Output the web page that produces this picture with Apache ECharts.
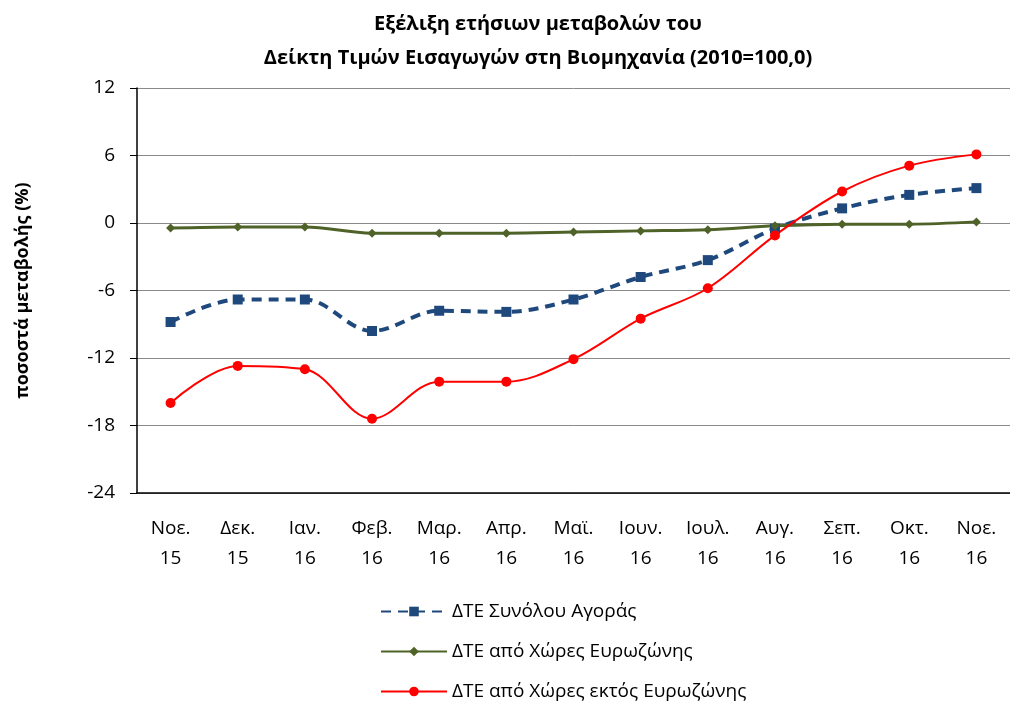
<!DOCTYPE html>
<html>
<head>
<meta charset="utf-8">
<script src="https://cdn.jsdelivr.net/npm/echarts@6/dist/echarts.min.js"></script>
<style>html,body{margin:0;padding:0;background:#fff}#c{width:1010px;height:701px}</style>
</head>
<body>
<div id="c"></div>
<script>
const categories = ['Νοε.\n15','Δεκ.\n15','Ιαν.\n16','Φεβ.\n16','Μαρ.\n16','Απρ.\n16','Μαϊ.\n16','Ιουν.\n16','Ιουλ.\n16','Αυγ.\n16','Σεπ.\n16','Οκτ.\n16','Νοε.\n16'];
const totalMarket = [-8.8,-6.8,-6.8,-9.6,-7.8,-7.9,-6.8,-4.8,-3.3,-0.5,1.3,2.5,3.1];
const eurozone = [-0.45,-0.35,-0.35,-0.9,-0.9,-0.9,-0.8,-0.7,-0.6,-0.25,-0.1,-0.1,0.1];
const nonEurozone = [-16.0,-12.7,-13.0,-17.4,-14.1,-14.1,-12.1,-8.5,-5.8,-1.1,2.8,5.1,6.1];
const seriesNames = ['ΔΤΕ Συνόλου Αγοράς','ΔΤΕ από Χώρες Ευρωζώνης','ΔΤΕ από Χώρες εκτός Ευρωζώνης'];
const yTicks = {min:-24, max:12, interval:6};

const font = "'Open Sans', 'Noto Sans', sans-serif";
const chart = echarts.init(document.getElementById('c'));
chart.setOption({
  animation:false,
  title:{
    text:'Εξέλιξη ετήσιων μεταβολών του\nΔείκτη Τιμών Εισαγωγών στη Βιομηχανία (2010=100,0)',
    left:533, top:2, textAlign:'center',
    textStyle:{fontFamily:font,fontSize:20,fontWeight:'bold',color:'#000',lineHeight:34}
  },
  legend:{
    orient:'vertical', left:375, top:597, height:140, itemWidth:66, itemHeight:12, itemGap:21,
    padding:[5,5,5,5],
    textStyle:{fontFamily:font,fontSize:19,color:'#000'},
    data:seriesNames
  },
  grid:{left:137,right:0,top:88,bottom:208,containLabel:false},
  xAxis:{
    type:'category', data:categories, boundaryGap:true,
    axisLine:{onZero:false,lineStyle:{color:'#000',width:1.5}},
    axisTick:{show:false},
    axisLabel:{fontFamily:font,fontSize:19,color:'#000',margin:21,lineHeight:30}
  },
  yAxis:{
    type:'value', min:yTicks.min, max:yTicks.max, interval:yTicks.interval,
    name:'ποσοστά μεταβολής (%)', nameLocation:'middle', nameGap:105,
    nameTextStyle:{fontFamily:font,fontSize:18,fontWeight:'bold',color:'#000'},
    axisLine:{show:true,lineStyle:{color:'#000',width:1.5}},
    axisTick:{show:true,length:7,lineStyle:{color:'#000'}},
    axisLabel:{fontFamily:font,fontSize:19,color:'#000',margin:22},
    splitLine:{lineStyle:{color:'#8a8a8a',width:1}}
  },
  series:[
    {name:seriesNames[0],type:'line',data:totalMarket,smooth:0.35,
     symbol:'rect',symbolSize:10,
     lineStyle:{color:'#1F497D',width:4,type:[10,7]},
     itemStyle:{color:'#1F497D'}},
    {name:seriesNames[1],type:'line',data:eurozone,smooth:0.35,
     symbol:'diamond',symbolSize:9,
     lineStyle:{color:'#4F6228',width:3},
     itemStyle:{color:'#4F6228'}},
    {name:seriesNames[2],type:'line',data:nonEurozone,smooth:0.35,
     symbol:'circle',symbolSize:10,
     lineStyle:{color:'#FF0000',width:2},
     itemStyle:{color:'#FF0000'}}
  ]
});
</script>
</body>
</html>
